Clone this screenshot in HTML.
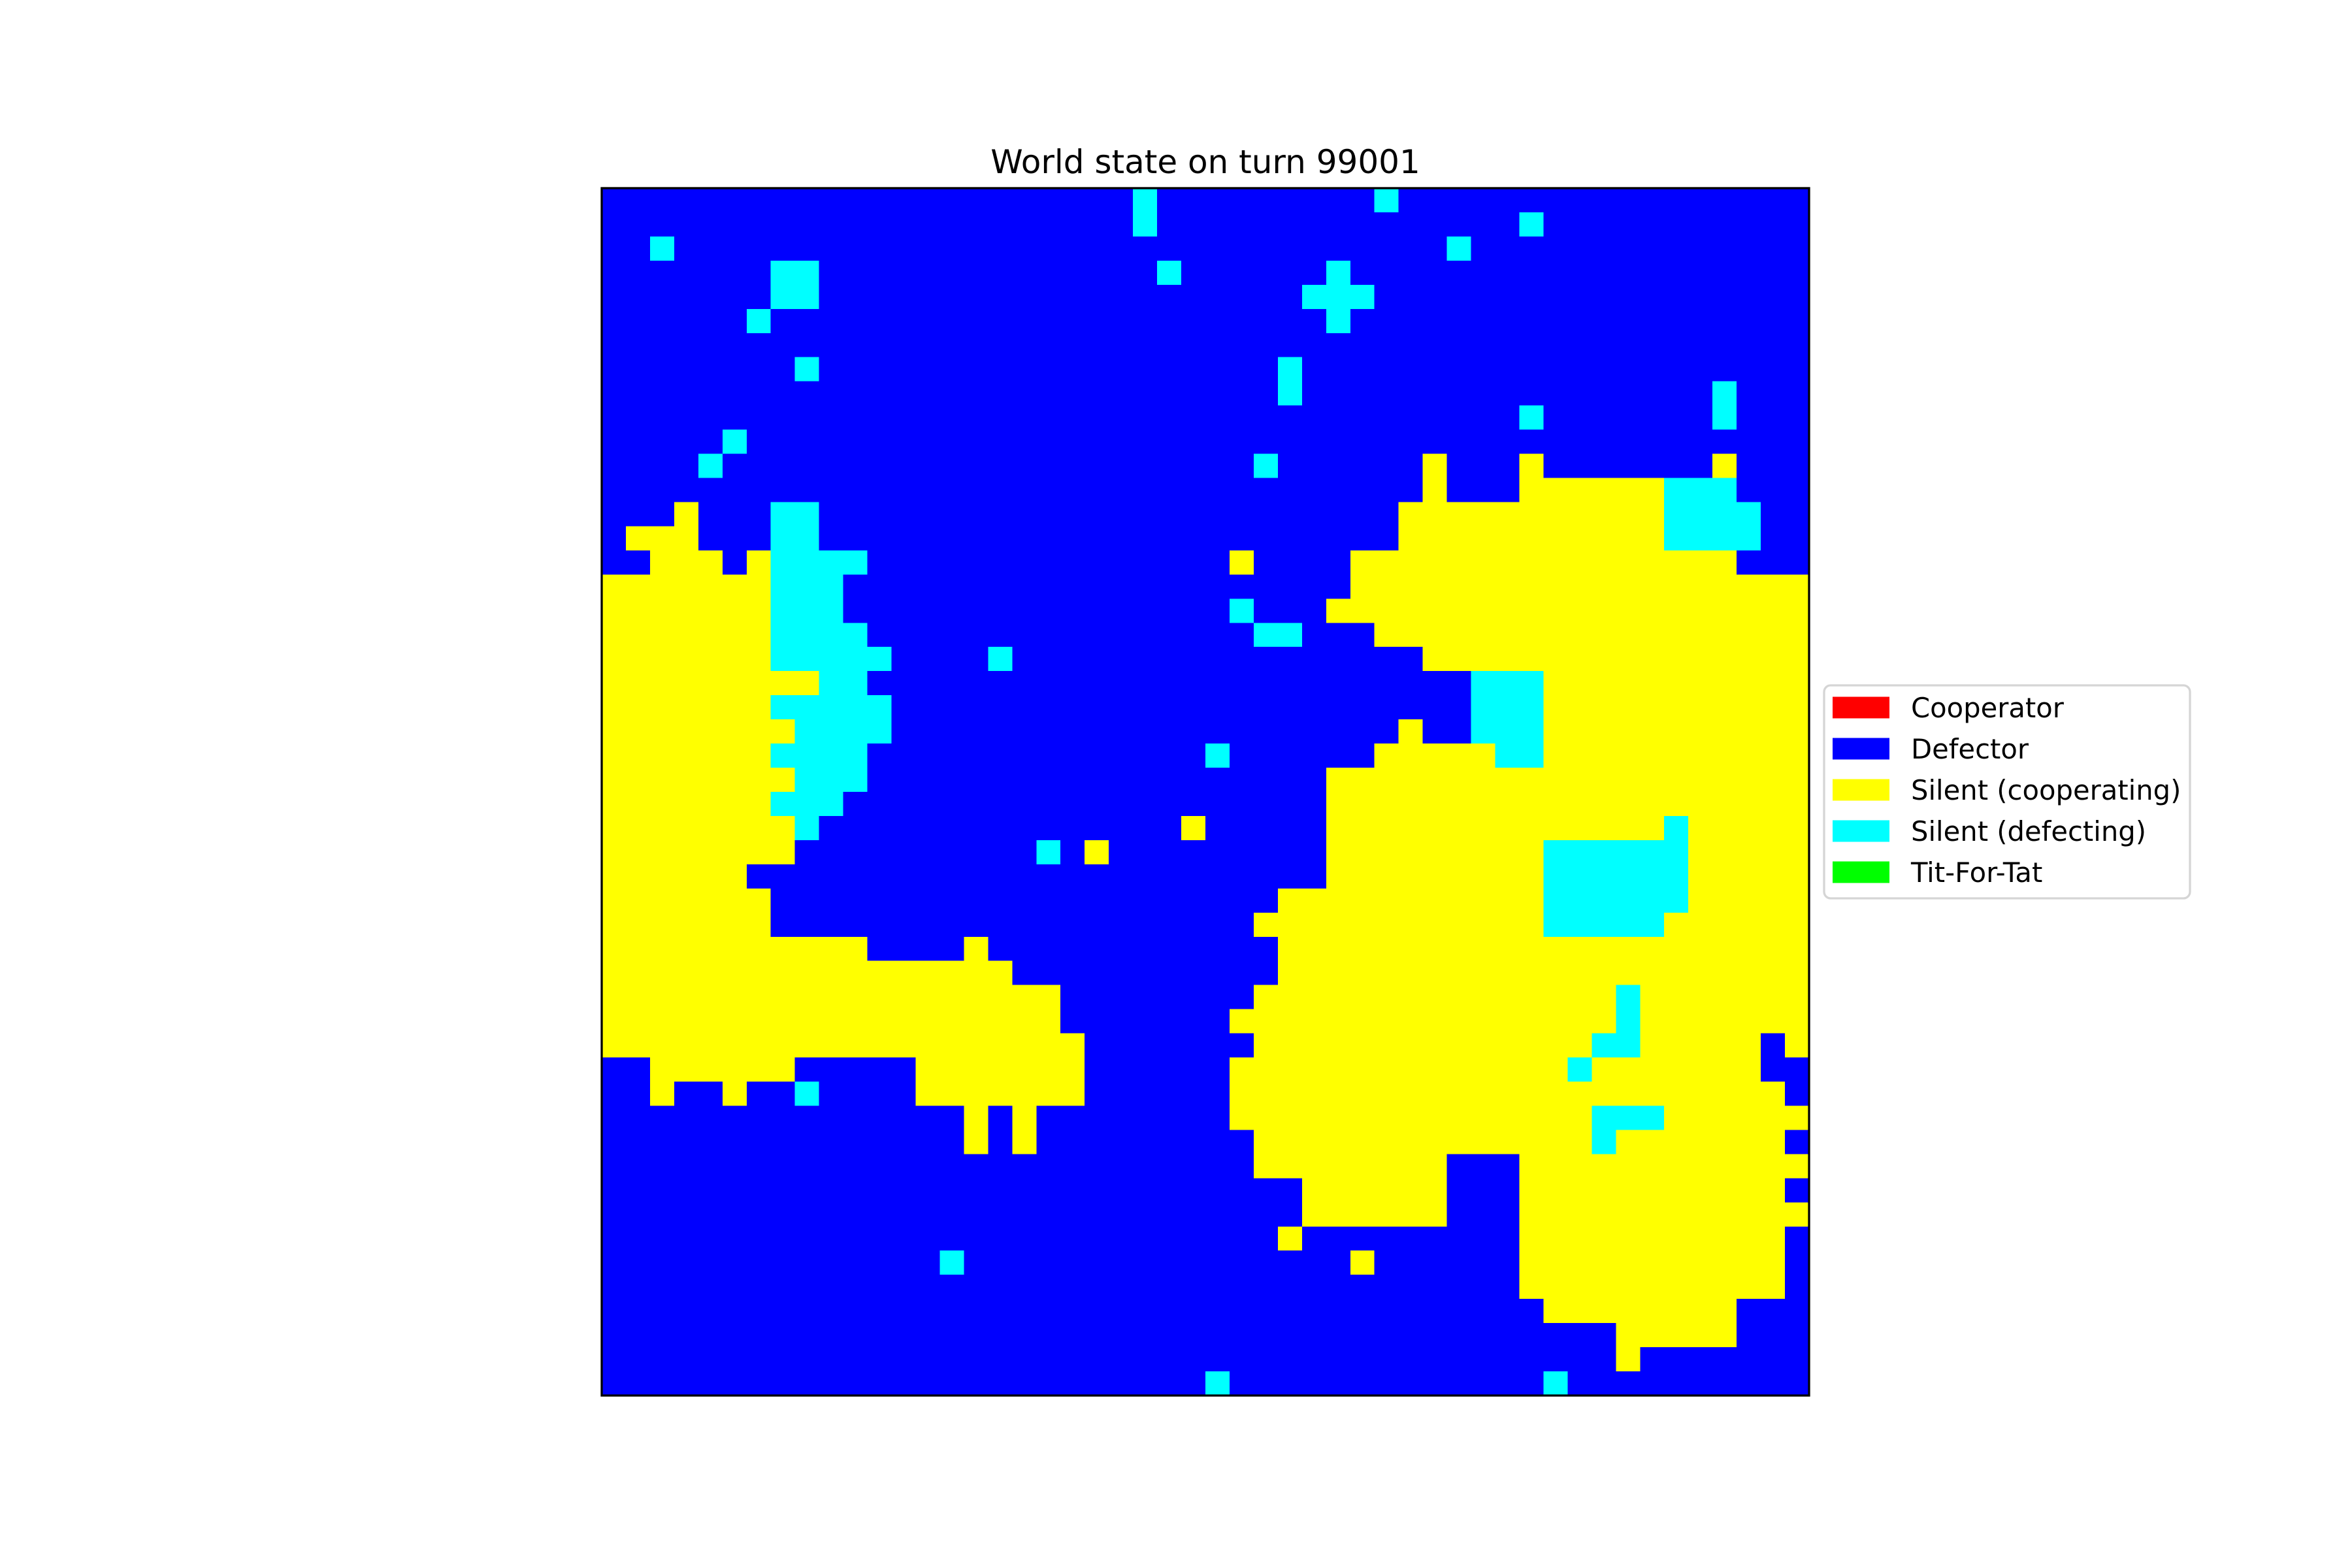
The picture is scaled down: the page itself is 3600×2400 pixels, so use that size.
<!DOCTYPE html>
<html><head><meta charset="utf-8">
<style>
html,body{margin:0;padding:0;background:#fff;}
svg{display:block;}
text{font-family:"DejaVu Sans","Liberation Sans",sans-serif;}
</style></head>
<body>
<svg id="chart" width="3600" height="2400" viewBox="0 0 3600 2400" xmlns="http://www.w3.org/2000/svg">
<rect x="0" y="0" width="3600" height="2400" fill="#fff"/>
<text x="1845" y="265" font-size="50" text-anchor="middle" fill="#000">World state on turn 99001</text>
<g id="cells" shape-rendering="crispEdges"></g>
<rect x="921" y="288" width="1848" height="1848" fill="none" stroke="#000" stroke-width="3.3"/>
<g id="legend">
<rect x="2792" y="1049" width="560" height="326" rx="10" fill="#fff" stroke="#d5d5d5" stroke-width="3.3"/>
</g>
</svg>
<script>
// Grid size
const gridSize = 50;
// State legend labels
const stateLabels = ["Cooperator","Defector","Silent (cooperating)","Silent (defecting)","Tit-For-Tat"];
const stateCodes = ["R","B","Y","C","G"];
const stateColors = ["#ff0000","#0000ff","#ffff00","#00ffff","#00ff00"];
// Per-row overrides (default Defector "B"); format Code+col or Code+start-end
const rowData = [
"C22 C32",
"C22 C38",
"C2 C35",
"C7-8 C23 C30",
"C7-8 C29-31",
"C6 C30",
"",
"C8 C28",
"C28 C46",
"C38 C46",
"C5",
"C4 C27 Y34 Y38 Y46",
"Y34 Y38-43 C44-46",
"Y3 C7-8 Y33-43 C44-47",
"Y1-3 C7-8 Y33-43 C44-47",
"Y2-4 Y6 C7-10 Y26 Y31-46",
"Y0-6 C7-9 Y31-49",
"Y0-6 C7-9 C26 Y30-49",
"Y0-6 C7-10 C27-28 Y32-49",
"Y0-6 C7-11 C16 Y34-49",
"Y0-8 C9-10 C36-38 Y39-49",
"Y0-6 C7-11 C36-38 Y39-49",
"Y0-7 C8-11 Y33 C36-38 Y39-49",
"Y0-6 C7-10 C25 Y32-36 C37-38 Y39-49",
"Y0-7 C8-10 Y30-49",
"Y0-6 C7-9 Y30-49",
"Y0-7 C8 Y24 Y30-43 C44 Y45-49",
"Y0-7 C18 Y20 Y30-38 C39-44 Y45-49",
"Y0-5 Y30-38 C39-44 Y45-49",
"Y0-6 Y28-38 C39-44 Y45-49",
"Y0-6 Y27-38 C39-43 Y44-49",
"Y0-10 Y15 Y28-49",
"Y0-16 Y28-49",
"Y0-18 Y27-41 C42 Y43-49",
"Y0-18 Y26-41 C42 Y43-49",
"Y0-19 Y27-40 C41-42 Y43-47 Y49",
"Y2-7 Y13-19 Y26-39 C40 Y41-47",
"Y2 Y5 C8 Y13-19 Y26-48",
"Y15 Y17 Y26-40 C41-43 Y44-49",
"Y15 Y17 Y27-40 C41 Y42-48",
"Y27-34 Y38-49",
"Y29-34 Y38-48",
"Y29-34 Y38-49",
"Y28 Y38-48",
"C14 Y31 Y38-48",
"Y38-48",
"Y39-46",
"Y42-46",
"Y42",
"C25 C39"
];

const NS = "http://www.w3.org/2000/svg";
const axLeft = 921, axTop = 288, axSize = 1848;
function xScale(c){ return axLeft + c * axSize / gridSize; }
function yScale(r){ return axTop + r * axSize / gridSize; }

const grid = [];
for (let r = 0; r < gridSize; r++) {
  const row = new Array(gridSize).fill("B");
  const parts = rowData[r].split(" ").filter(s => s.length);
  for (const p of parts) {
    const code = p[0];
    const rng = p.slice(1).split("-").map(Number);
    const a = rng[0], b = rng.length > 1 ? rng[1] : rng[0];
    for (let c = a; c <= b; c++) row[c] = code;
  }
  grid.push(row);
}

const cellsG = document.getElementById("cells");
for (let r = 0; r < gridSize; r++) {
  let c = 0;
  while (c < gridSize) {
    const code = grid[r][c];
    let e = c;
    while (e + 1 < gridSize && grid[r][e + 1] === code) e++;
    const rect = document.createElementNS(NS, "rect");
    rect.setAttribute("x", xScale(c));
    rect.setAttribute("y", yScale(r));
    rect.setAttribute("width", xScale(e + 1) - xScale(c) + 0.5);
    rect.setAttribute("height", yScale(r + 1) - yScale(r) + 0.5);
    rect.setAttribute("fill", stateColors[stateCodes.indexOf(code)]);
    
    
    cellsG.appendChild(rect);
    c = e + 1;
  }
}

const legendG = document.getElementById("legend");
for (let i = 0; i < stateLabels.length; i++) {
  const cy = 1083 + i * 63;
  const patch = document.createElementNS(NS, "rect");
  patch.setAttribute("x", 2805);
  patch.setAttribute("y", cy - 16.5);
  patch.setAttribute("width", 87);
  patch.setAttribute("height", 33);
  patch.setAttribute("fill", stateColors[i]);
  
  
  legendG.appendChild(patch);
  const t = document.createElementNS(NS, "text");
  t.setAttribute("x", 2925);
  t.setAttribute("y", cy + 15);
  t.setAttribute("font-size", "41.7");
  t.setAttribute("fill", "#000");
  t.textContent = stateLabels[i];
  
  
  legendG.appendChild(t);
}
</script>
</body></html>
